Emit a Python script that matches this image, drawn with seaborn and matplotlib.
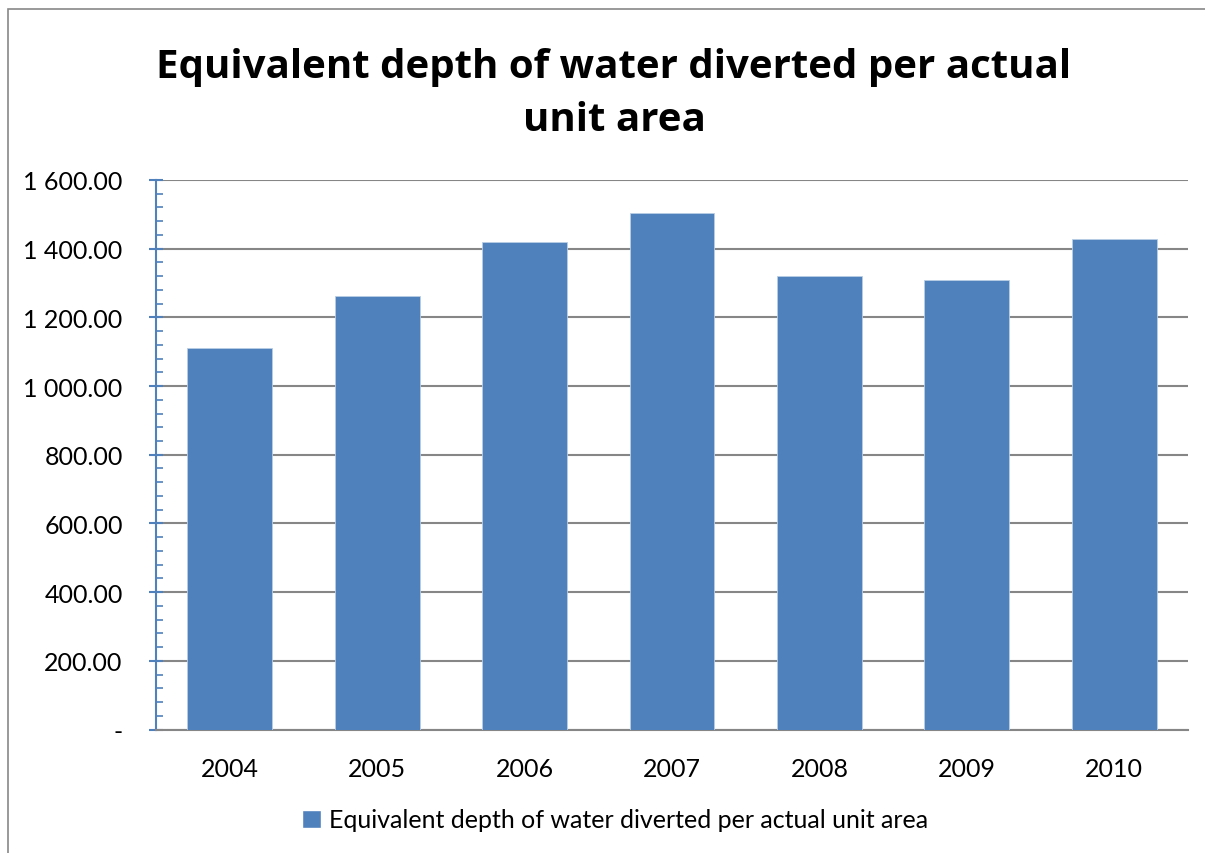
import matplotlib
matplotlib.use("Agg")
import matplotlib.pyplot as plt
import matplotlib.ticker as mticker
from matplotlib.patches import Rectangle
import seaborn as sns
import pandas as pd

years = ["2004", "2005", "2006", "2007", "2008", "2009", "2010"]
values = [1110, 1261, 1420, 1505, 1321, 1310, 1428]
series_name = "Equivalent depth of water diverted per actual unit area"
title = "Equivalent depth of water diverted per actual\nunit area"

sns.set_theme(style="white")
plt.rcParams["font.family"] = ["Lato", "DejaVu Sans"]
plt.rcParams["text.color"] = "black"
plt.rcParams["xtick.color"] = "black"
plt.rcParams["ytick.color"] = "black"

W, H = 1205, 854
fig = plt.figure(figsize=(W / 100, H / 100), dpi=100)
ax = fig.add_axes([156 / W, 1 - 730.5 / H, (1188 - 156) / W, (730.5 - 181) / H])

df = pd.DataFrame({"year": years, "value": values})
bar_color = "#4F81BD"
sns.barplot(data=df, x="year", y="value", color=bar_color, saturation=1,
            width=0.575, ax=ax, edgecolor="#B9CDE5", linewidth=0.6, zorder=3)

ax.set_ylim(0, 1600)
ax.set_xlim(-0.5, len(years) - 0.5)
ax.yaxis.set_major_locator(mticker.MultipleLocator(200))
ax.yaxis.set_minor_locator(mticker.MultipleLocator(40))

def fmt(v, pos):
    if abs(v) < 1e-9:
        return "-"
    return f"{v:,.2f}".replace(",", " ")

ax.yaxis.set_major_formatter(mticker.FuncFormatter(fmt))
ax.grid(axis="y", which="major", color="#868686", linewidth=1.5, zorder=0)
ax.set_axisbelow(True)
ax.set_xlabel("")
ax.set_ylabel("")

for s in ["top", "right"]:
    ax.spines[s].set_visible(False)
ax.spines["left"].set_color("#4F81BD")
ax.spines["left"].set_linewidth(1.5)
ax.spines["bottom"].set_color("#868686")
ax.spines["bottom"].set_linewidth(1.5)

ax.tick_params(axis="y", which="major", direction="inout", length=10, width=1.5,
               color="#4F81BD", labelcolor="black", labelsize=18, pad=19, left=True)
ax.tick_params(axis="y", which="minor", direction="in", length=5, width=1.2,
               color="#4F81BD", left=True)
ax.tick_params(axis="x", which="both", length=0, labelsize=18, pad=20,
               labelcolor="black")

fig.text(614 / W, 1 - 94 / H, title, ha="center", va="center",
         fontsize=29, fontweight="bold", linespacing=1.45, color="black",
         family=["Open Sans", "DejaVu Sans"])

handle = Rectangle((0, 0), 1, 1, facecolor=bar_color)
leg = fig.legend([handle], [series_name], loc="center",
                 bbox_to_anchor=(615 / W, 1 - 821 / H),
                 frameon=False, fontsize=18, handlelength=0.75, handleheight=0.75,
                 handletextpad=0.3)
for t in leg.get_texts():
    t.set_color("black")

fig.add_artist(Rectangle((8 / W, -0.1), 1.2, (1 - 10 / H) + 0.1, transform=fig.transFigure,
                         fill=False, edgecolor="#888888", linewidth=1.2))

fig.savefig("out.png", dpi=100, facecolor="white")
